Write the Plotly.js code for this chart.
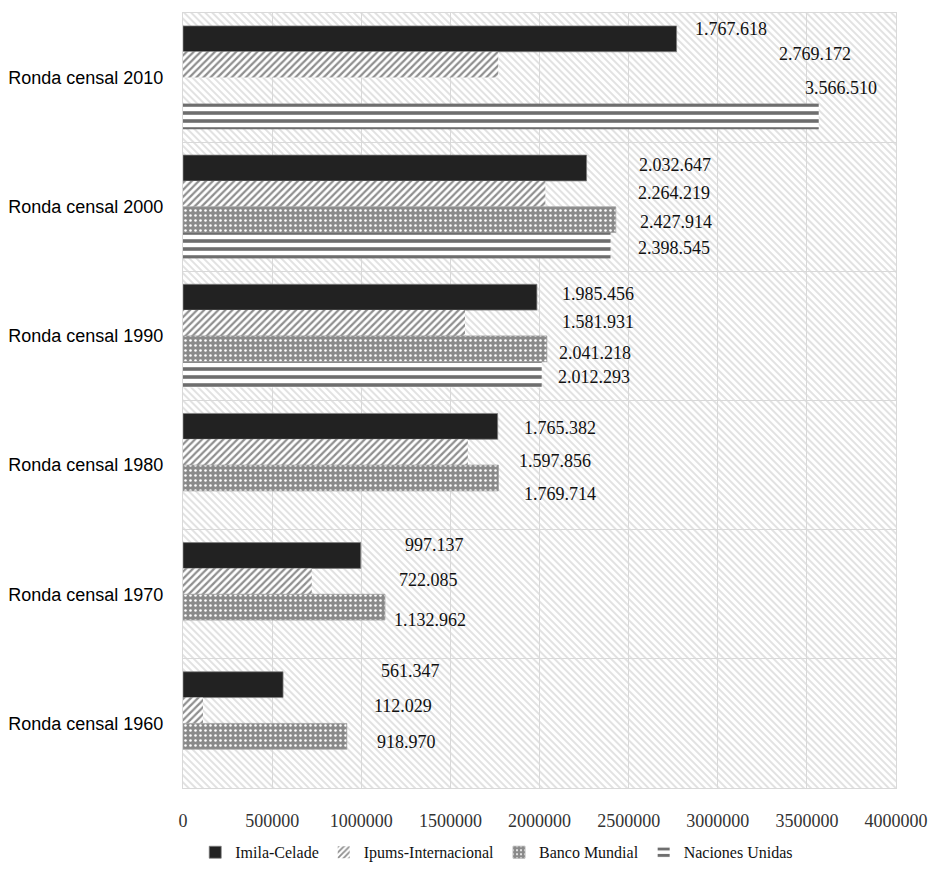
<!DOCTYPE html>
<html>
<head>
<meta charset="utf-8">
<script src="https://cdn.plot.ly/plotly-3.0.1.min.js"></script>
<style>html,body{margin:0;padding:0;background:#fff;}#chart{width:931px;height:892px;}</style>
</head>
<body>
<div id="chart"></div>
<script>
// ---- data ----
const categories = ['Ronda censal 2010','Ronda censal 2000','Ronda censal 1990','Ronda censal 1980','Ronda censal 1970','Ronda censal 1960'];
const seriesNames = ['Imila-Celade','Ipums-Internacional','Banco Mundial','Naciones Unidas'];
const imila    = [2769172, 2264219, 1985456, 1765382, 997137, 561347];
const ipums    = [1767618, 2032647, 1581931, 1597856, 722085, 112029];
const banco    = [null, 2427914, 2041218, 1769714, 1132962, 918970];
const naciones = [3566510, 2398545, 2012293, null, null, null];
// labels as printed in the chart
const imilaLabels    = ['1.767.618','2.032.647','1.985.456','1.765.382','997.137','561.347'];
const ipumsLabels    = ['2.769.172','2.264.219','1.581.931','1.597.856','722.085','112.029'];
const bancoLabels    = ['', '2.427.914','2.041.218','1.769.714','1.132.962','918.970'];
const nacionesLabels = ['3.566.510','2.398.545','2.012.293','','',''];
const xTicks = [0,500000,1000000,1500000,2000000,2500000,3000000,3500000,4000000];

// ---- label placement (pixel offsets from bar end / category centre) ----
const labelDx = [
  [16, 50, 23, 24, 42, 96],
  [279, 91, 95, 49, 85, 169],
  [0, 22, 10, 24, 7, 28],
  [-16, 25, 14, 0, 0, 0]
];
const labelDy = [
  [-48.6, -41.8, -42, -37, -49, -52],
  [-23.6, -13.8, -14, -4, -14, -17],
  [0, 15.2, 17, 29, 26, 19],
  [10.4, 41.2, 41, 0, 0, 0]
];

const values = [imila, ipums, banco, naciones];
const labels = [imilaLabels, ipumsLabels, bancoLabels, nacionesLabels];

const serif = '"Liberation Serif", "Times New Roman", serif';
const sans = '"Liberation Sans", Arial, sans-serif';

const markers = [
  {color:'#222222', line:{color:'#808080', width:0.75}},
  {color:'#ffffff', line:{width:0}, pattern:{shape:'/', fgcolor:'#8f8f8f', bgcolor:'#ffffff', size:5, solidity:0.45}},
  {color:'#8a8a8a', line:{color:'#a0a0a0', width:0.75}, pattern:{shape:'.', fgcolor:'#ffffff', bgcolor:'#8a8a8a', size:5, solidity:0.2}},
  {color:'#ffffff', line:{width:0}, pattern:{shape:'-', fgcolor:'#6e6e6e', bgcolor:'#ffffff', size:8, solidity:0.45}}
];

const traces = values.map((v, i) => ({
  type:'bar', orientation:'h', name:seriesNames[i],
  y:categories, x:v, marker:markers[i], hoverinfo:'skip'
}));

const annotations = [];
values.forEach((v, i) => {
  v.forEach((val, j) => {
    if (val === null || !labels[i][j]) return;
    annotations.push({
      x:val, y:categories[j], xref:'x', yref:'y',
      text:labels[i][j], showarrow:false, xanchor:'left', yanchor:'middle',
      xshift:labelDx[i][j], yshift:-labelDy[i][j],
      font:{family:serif, size:18, color:'#111'}
    });
  });
});

const bgSvg = "<svg xmlns='http://www.w3.org/2000/svg' width='713' height='775'>" +
  "<defs><pattern id='p' width='5' height='5' patternUnits='userSpaceOnUse' patternTransform='rotate(-45)'>" +
  "<rect x='0' y='0' width='2' height='5' fill='#e2e2e2'/></pattern></defs>" +
  "<rect width='100%' height='100%' fill='#ffffff'/><rect width='100%' height='100%' fill='url(#p)'/></svg>";

const layout = {
  width:931, height:892,
  margin:{l:183, r:35, t:13, b:104},
  paper_bgcolor:'#ffffff', plot_bgcolor:'#ffffff',
  barmode:'group', bargap:0.2, bargroupgap:0,
  showlegend:true,
  legend:{orientation:'h', x:0.44, xanchor:'center', y:-0.083, yanchor:'middle',
          font:{family:serif, size:16, color:'#111'}, itemwidth:30, traceorder:'normal'},
  xaxis:{range:[0,4000000], tickvals:xTicks, tickformat:'d', showgrid:true, gridcolor:'#d9d9d9', gridwidth:1,
         zeroline:false, showline:true, linecolor:'#d9d9d9', mirror:true, ticks:'',
         ticklabelstandoff:16, tickfont:{family:serif, size:18, color:'#333'}},
  yaxis:{type:'category', categoryorder:'array', categoryarray:categories, autorange:'reversed',
         tickson:'boundaries', showgrid:true, gridcolor:'#d9d9d9', gridwidth:1,
         showline:true, linecolor:'#d9d9d9', mirror:true, ticks:'', ticklabelstandoff:15,
         tickfont:{family:sans, size:18, color:'#000'}},
  images:[{source:'data:image/svg+xml;charset=utf-8,' + encodeURIComponent(bgSvg),
           xref:'paper', yref:'paper', x:0, y:1, sizex:1, sizey:1, xanchor:'left', yanchor:'top',
           sizing:'stretch', layer:'below'}],
  annotations:annotations
};

Plotly.newPlot('chart', traces, layout, {displayModeBar:false, staticPlot:true});
</script>
</body>
</html>
